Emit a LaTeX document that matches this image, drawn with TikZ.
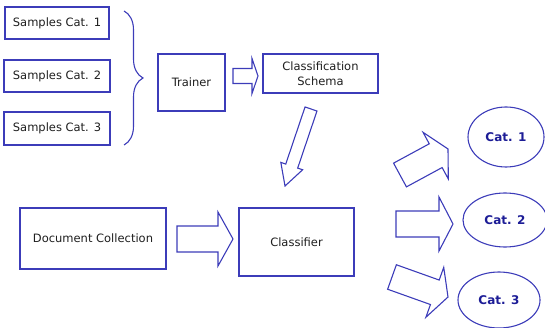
\documentclass[tikz,border=0pt]{standalone}
\usepackage{fontspec}
\setmainfont{DejaVu Sans}
\usetikzlibrary{shapes.geometric,decorations.pathreplacing,calc}
\definecolor{boxblue}{RGB}{60,60,185}
\definecolor{catblue}{RGB}{28,28,150}
\definecolor{textgray}{RGB}{30,30,30}

% hollow block arrow: tail #1, tip #2, shaft half width #3, head half width #4, head length #5
\newcommand{\fatarrow}[5]{%
	\coordinate (hb) at ($(#2)!#5!(#1)$);
	\draw[boxblue, line width=1.1pt, line join=miter]
	($(#1)!#3!90:(#2)$) -- ($(hb)!#3!90:(#2)$) -- ($(hb)!#4!90:(#2)$) -- (#2)
	-- ($(hb)!#4!-90:(#2)$) -- ($(hb)!#3!-90:(#2)$) -- ($(#1)!#3!-90:(#2)$) -- cycle;
}

\begin{document}
\begin{tikzpicture}[x=1pt, y=-1pt,
	box/.style={draw=boxblue, line width=1.1pt, inner sep=0pt, text=textgray,
		font=\fontsize{11.5}{15}\selectfont, align=center},
	cat/.style={draw=boxblue, line width=1.1pt, ellipse, inner sep=0pt, text=catblue,
		font=\fontsize{12}{14}\selectfont\bfseries}]
	\useasboundingbox (0,0) rectangle (545,328);

	% training samples
	\node[box, minimum width=104pt, minimum height=32pt] (samp1) at (57,23) {Samples Cat. 1};
	\node[box, minimum width=106pt, minimum height=32pt] (samp2) at (57,76) {Samples Cat. 2};
	\node[box, minimum width=106pt, minimum height=33pt] (samp3) at (57,128.5) {Samples Cat. 3};
	\draw[boxblue, line width=1.1pt, decorate, decoration={brace, amplitude=19pt}]
		(124,11) -- (124,145);

	% trainer and schema
	\node[box, minimum width=67pt, minimum height=57pt] (trainer) at (191.5,82.5) {Trainer};
	\node[box, minimum width=115pt, minimum height=39pt] (schema) at (320.5,73.5) {Classification\\Schema};
	\coordinate (trt) at (233,76);
	\coordinate (trh) at (258,76);
	\fatarrow{trt}{trh}{7.5pt}{17.5pt}{6pt}
	\coordinate (sct) at (311,109);
	\coordinate (sch) at (285,186);
	\fatarrow{sct}{sch}{6.3pt}{11.5pt}{21pt}

	% classification
	\node[box, minimum width=146pt, minimum height=61pt] (docs) at (93,238.5) {Document Collection};
	\node[box, minimum width=115pt, minimum height=68pt] (classifier) at (296.5,242) {Classifier};
	\coordinate (dct) at (177,239);
	\coordinate (dch) at (233,239);
	\fatarrow{dct}{dch}{13pt}{27pt}{15pt}

	% categories
	\node[cat, minimum width=76pt, minimum height=60pt] (cat1) at (506,137) {Cat. 1};
	\node[cat, minimum width=84pt, minimum height=54pt] (cat2) at (505,220) {Cat. 2};
	\node[cat, minimum width=82pt, minimum height=56pt] (cat3) at (499,300) {Cat. 3};
	\coordinate (c1t) at (400,175);
	\coordinate (c1h) at (448,149);
	\fatarrow{c1t}{c1h}{13.5pt}{26.5pt}{14pt}
	\coordinate (c2t) at (396,224);
	\coordinate (c2h) at (453,224);
	\fatarrow{c2t}{c2h}{13pt}{27pt}{14pt}
	\coordinate (c3t) at (392,277);
	\coordinate (c3h) at (448,297);
	\fatarrow{c3t}{c3h}{13pt}{26.5pt}{14pt}

\end{tikzpicture}
\end{document}
